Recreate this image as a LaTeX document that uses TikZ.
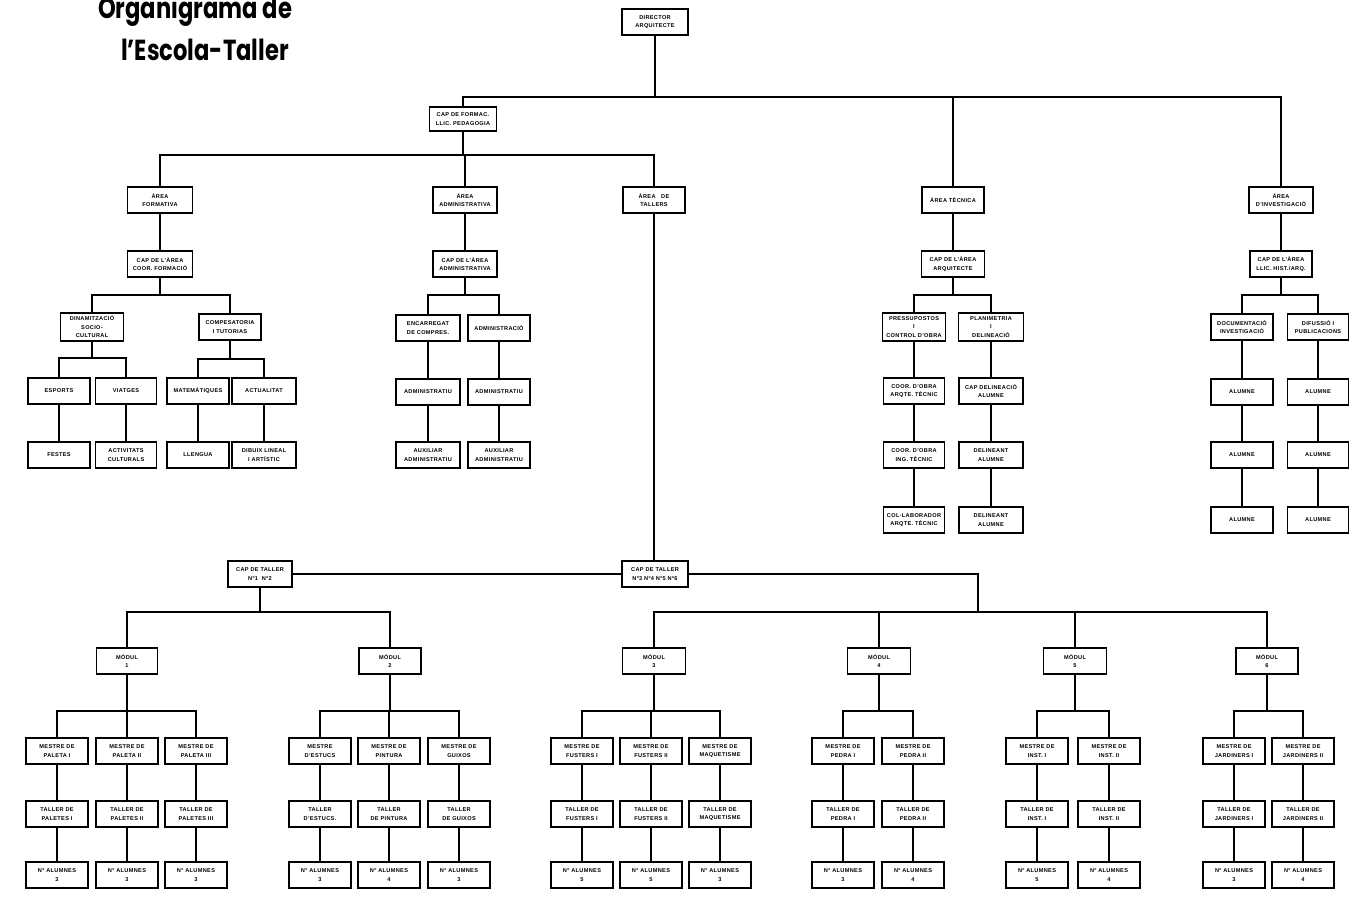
\documentclass[tikz,border=0pt]{standalone}
\usepackage{fontspec}
\setmainfont{Liberation Sans}[LetterSpace=6]
\newfontfamily\titlefont{Poppins}
\begin{document}
\begin{tikzpicture}[x=1pt,y=-1pt,
  bx/.style={draw, line width=1.3pt, fill=white, minimum width=#1, minimum height=26pt, inner sep=0.5pt, align=center, font=\fontsize{5.6}{8.5}\selectfont\bfseries},
  bx/.default=62,
  conn/.style={line width=1.5pt},
  ttl/.style={font=\titlefont\bfseries\fontsize{29}{32}\selectfont, anchor=base, inner sep=0pt}]
\useasboundingbox (0,0) rectangle (1357,910);
\fill[white] (0,0) rectangle (1357,910);
% title
\node[ttl] (t1) at (195,18) {\scalebox{0.78}[1]{Organigrama de}};
\node[ttl] (t2) at (205,60) {\scalebox{0.78}[1]{l’Escola-Taller}};
% top
\node[bx=66] (dir) at (655,22) {DIRECTOR\\ARQUITECTE};
\node[bx=67,minimum height=24pt] (capf) at (463,119) {CAP DE FORMAC.\\LLIC. PEDAGOGIA};
% areas
\node[bx=65] (afor) at (160,200) {ÀREA\\FORMATIVA};
\node[bx=64] (aadm) at (465,200) {ÀREA\\ADMINISTRATIVA};
\node[bx=62] (atal) at (654,200) {ÀREA \ \ DE\\TALLERS};
\node[bx=62] (atec) at (953,200) {ÀREA TÈCNICA};
\node[bx=64] (ainv) at (1281,200) {ÀREA\\D’INVESTIGACIÓ};
% caps d'area
\node[bx=65] (cfor) at (160,264) {CAP DE L’ÀREA\\COOR. FORMACIÓ};
\node[bx=64] (cadm) at (465,264) {CAP DE L’ÀREA\\ADMINISTRATIVA};
\node[bx=63] (ctec) at (953,264) {CAP DE L’ÀREA\\ARQUITECTE};
\node[bx=62] (cinv) at (1281,264) {CAP DE L’ÀREA\\LLIC. HIST./ARQ.};
% row 3
\node[bx=63,minimum height=28pt] (dina) at (92,327) {DINAMITZACIÓ\\SOCIO-\\CULTURAL};
\node[bx=62] (comp) at (230,327) {COMPESATORIA\\I TUTORIAS};
\node[bx=64] (enca) at (428,328) {ENCARREGAT\\DE COMPRES.};
\node[bx=62] (admc) at (499,328) {ADMINISTRACIÓ};
\node[bx=63,minimum height=28pt] (pres) at (914,327) {PRESSUPOSTOS\\I\\CONTROL D’OBRA};
\node[bx=65,minimum height=28pt] (plan) at (991,327) {PLANIMETRIA\\I\\DELINEACIÓ};
\node[bx=62] (docu) at (1242,327) {DOCUMENTACIÓ\\INVESTIGACIÓ};
\node[bx=61] (difu) at (1318,327) {DIFUSSIÓ I\\PUBLICACIONS};
% row 4
\node[bx=62] (espo) at (59,391) {ESPORTS};
\node[bx=61] (viat) at (126,391) {VIATGES};
\node[bx=62] (mate) at (198,391) {MATEMÀTIQUES};
\node[bx=64] (actu) at (264,391) {ACTUALITAT};
\node[bx=64] (adm1) at (428,392) {ADMINISTRATIU};
\node[bx=62] (adm2) at (499,392) {ADMINISTRATIU};
\node[bx=61] (coo1) at (914,391) {COOR. D’OBRA\\ARQTE. TÈCNIC};
\node[bx=64] (cdel) at (991,391) {CAP DELINEACIÓ\\ALUMNE};
\node[bx=62] (alu1) at (1242,392) {ALUMNE};
\node[bx=61] (alu2) at (1318,392) {ALUMNE};
% row 5
\node[bx=62] (fest) at (59,455) {FESTES};
\node[bx=61] (acti) at (126,455) {ACTIVITATS\\CULTURALS};
\node[bx=62] (llen) at (198,455) {LLENGUA};
\node[bx=64] (dibu) at (264,455) {DIBUIX LINEAL\\I ARTÍSTIC};
\node[bx=64] (aux1) at (428,455) {AUXILIAR\\ADMINISTRATIU};
\node[bx=62] (aux2) at (499,455) {AUXILIAR\\ADMINISTRATIU};
\node[bx=61] (coo2) at (914,455) {COOR. D’OBRA\\ING. TÈCNIC};
\node[bx=64] (del1) at (991,455) {DELINEANT\\ALUMNE};
\node[bx=62] (alu3) at (1242,455) {ALUMNE};
\node[bx=61] (alu4) at (1318,455) {ALUMNE};
% row 6
\node[bx=61] (coll) at (914,520) {COL·LABORADOR\\ARQTE. TÈCNIC};
\node[bx=64] (del2) at (991,520) {DELINEANT\\ALUMNE};
\node[bx=62] (alu5) at (1242,520) {ALUMNE};
\node[bx=61] (alu6) at (1318,520) {ALUMNE};
% caps de taller
\node[bx=64] (capl) at (260,574) {CAP DE TALLER\\Nº1 \ Nº2};
\node[bx=66] (capr) at (655,574) {CAP DE TALLER\\Nº3 Nº4 Nº5 Nº6};
\coordinate (rj) at (978,612);
% moduls
\node[bx=61] (mod1) at (127,661) {MÒDUL\\1};
\node[bx=62] (mod2) at (390,661) {MÒDUL\\2};
\node[bx=63] (mod3) at (654,661) {MÒDUL\\3};
\node[bx=63] (mod4) at (879,661) {MÒDUL\\4};
\node[bx=63] (mod5) at (1075,661) {MÒDUL\\5};
\node[bx=62] (mod6) at (1267,661) {MÒDUL\\6};
% mestres
\node[bx] (m11) at (57,751) {MESTRE DE\\PALETA I};
\node[bx] (m12) at (127,751) {MESTRE DE\\PALETA II};
\node[bx] (m13) at (196,751) {MESTRE DE\\PALETA III};
\node[bx] (m21) at (320,751) {MESTRE\\D’ESTUCS};
\node[bx] (m22) at (389,751) {MESTRE DE\\PINTURA};
\node[bx] (m23) at (459,751) {MESTRE DE\\GUIXOS};
\node[bx] (m31) at (582,751) {MESTRE DE\\FUSTERS I};
\node[bx] (m32) at (651,751) {MESTRE DE\\FUSTERS II};
\node[bx] (m33) at (720,751) {MESTRE DE\\MAQUETISME};
\node[bx] (m41) at (843,751) {MESTRE DE\\PEDRA I};
\node[bx] (m42) at (913,751) {MESTRE DE\\PEDRA II};
\node[bx] (m51) at (1037,751) {MESTRE DE\\INST. I};
\node[bx] (m52) at (1109,751) {MESTRE DE\\INST. II};
\node[bx] (m61) at (1234,751) {MESTRE DE\\JARDINERS I};
\node[bx] (m62) at (1303,751) {MESTRE DE\\JARDINERS II};
% tallers
\node[bx] (t11) at (57,814) {TALLER DE\\PALETES I};
\node[bx] (t12) at (127,814) {TALLER DE\\PALETES II};
\node[bx] (t13) at (196,814) {TALLER DE\\PALETES III};
\node[bx] (t21) at (320,814) {TALLER\\D’ESTUCS.};
\node[bx] (t22) at (389,814) {TALLER\\DE PINTURA};
\node[bx] (t23) at (459,814) {TALLER\\DE GUIXOS};
\node[bx] (t31) at (582,814) {TALLER DE\\FUSTERS I};
\node[bx] (t32) at (651,814) {TALLER DE\\FUSTERS II};
\node[bx] (t33) at (720,814) {TALLER DE\\MAQUETISME};
\node[bx] (t41) at (843,814) {TALLER DE\\PEDRA I};
\node[bx] (t42) at (913,814) {TALLER DE\\PEDRA II};
\node[bx] (t51) at (1037,814) {TALLER DE\\INST. I};
\node[bx] (t52) at (1109,814) {TALLER DE\\INST. II};
\node[bx] (t61) at (1234,814) {TALLER DE\\JARDINERS I};
\node[bx] (t62) at (1303,814) {TALLER DE\\JARDINERS II};
% alumnes
\node[bx] (n11) at (57,875) {Nº ALUMNES\\3};
\node[bx] (n12) at (127,875) {Nº ALUMNES\\3};
\node[bx] (n13) at (196,875) {Nº ALUMNES\\3};
\node[bx] (n21) at (320,875) {Nº ALUMNES\\3};
\node[bx] (n22) at (389,875) {Nº ALUMNES\\4};
\node[bx] (n23) at (459,875) {Nº ALUMNES\\3};
\node[bx] (n31) at (582,875) {Nº ALUMNES\\5};
\node[bx] (n32) at (651,875) {Nº ALUMNES\\5};
\node[bx] (n33) at (720,875) {Nº ALUMNES\\3};
\node[bx] (n41) at (843,875) {Nº ALUMNES\\3};
\node[bx] (n42) at (913,875) {Nº ALUMNES\\4};
\node[bx] (n51) at (1037,875) {Nº ALUMNES\\5};
\node[bx] (n52) at (1109,875) {Nº ALUMNES\\4};
\node[bx] (n61) at (1234,875) {Nº ALUMNES\\3};
\node[bx] (n62) at (1303,875) {Nº ALUMNES\\4};
% connectors
\foreach \c in {capf,atec,ainv} \draw[conn] (dir.south) -- (dir.south |- 0,97) -| (\c.north);
\foreach \c in {afor,aadm,atal} \draw[conn] (capf.south) -- (capf.south |- 0,155) -| (\c.north);
\foreach \a/\b in {afor/cfor,aadm/cadm,atec/ctec,ainv/cinv} \draw[conn] (\a.south) -- (\b.north);
\foreach \c in {dina,comp} \draw[conn] (cfor.south) -- (cfor.south |- 0,295) -| (\c.north);
\foreach \c in {enca,admc} \draw[conn] (cadm.south) -- (cadm.south |- 0,295) -| (\c.north);
\foreach \c in {pres,plan} \draw[conn] (ctec.south) -- (ctec.south |- 0,295) -| (\c.north);
\foreach \c in {docu,difu} \draw[conn] (cinv.south) -- (cinv.south |- 0,295) -| (\c.north);
\foreach \c in {espo,viat} \draw[conn] (dina.south) -- (dina.south |- 0,358) -| (\c.north);
\foreach \c in {mate,actu} \draw[conn] (comp.south) -- (comp.south |- 0,359) -| (\c.north);
\foreach \a/\b in {espo/fest,viat/acti,mate/llen,actu/dibu,enca/adm1,admc/adm2,adm1/aux1,adm2/aux2,
  pres/coo1,plan/cdel,coo1/coo2,coo2/coll,cdel/del1,del1/del2,
  docu/alu1,difu/alu2,alu1/alu3,alu2/alu4,alu3/alu5,alu4/alu6}
  \draw[conn] (\a.south) -- (\b.north);
\draw[conn] (atal.south) -- (atal.south |- capr.north);
\draw[conn] (capl.east) -- (capr.west);
\draw[conn] (capr.east) -| (rj);
\foreach \c in {mod1,mod2} \draw[conn] (capl.south) -- (capl.south |- 0,612) -| (\c.north);
\foreach \c in {mod3,mod4,mod5,mod6} \draw[conn] (rj) -| (\c.north);
\foreach \c in {m11,m12,m13} \draw[conn] (mod1.south) -- (mod1.south |- 0,711) -| (\c.north);
\foreach \c in {m21,m22,m23} \draw[conn] (mod2.south) -- (mod2.south |- 0,711) -| (\c.north);
\foreach \c in {m31,m32,m33} \draw[conn] (mod3.south) -- (mod3.south |- 0,711) -| (\c.north);
\foreach \c in {m41,m42} \draw[conn] (mod4.south) -- (mod4.south |- 0,711) -| (\c.north);
\foreach \c in {m51,m52} \draw[conn] (mod5.south) -- (mod5.south |- 0,711) -| (\c.north);
\foreach \c in {m61,m62} \draw[conn] (mod6.south) -- (mod6.south |- 0,711) -| (\c.north);
\foreach \i in {11,12,13,21,22,23,31,32,33,41,42,51,52,61,62} {
  \draw[conn] (m\i.south) -- (t\i.north);
  \draw[conn] (t\i.south) -- (n\i.north);
}
\end{tikzpicture}
\end{document}
